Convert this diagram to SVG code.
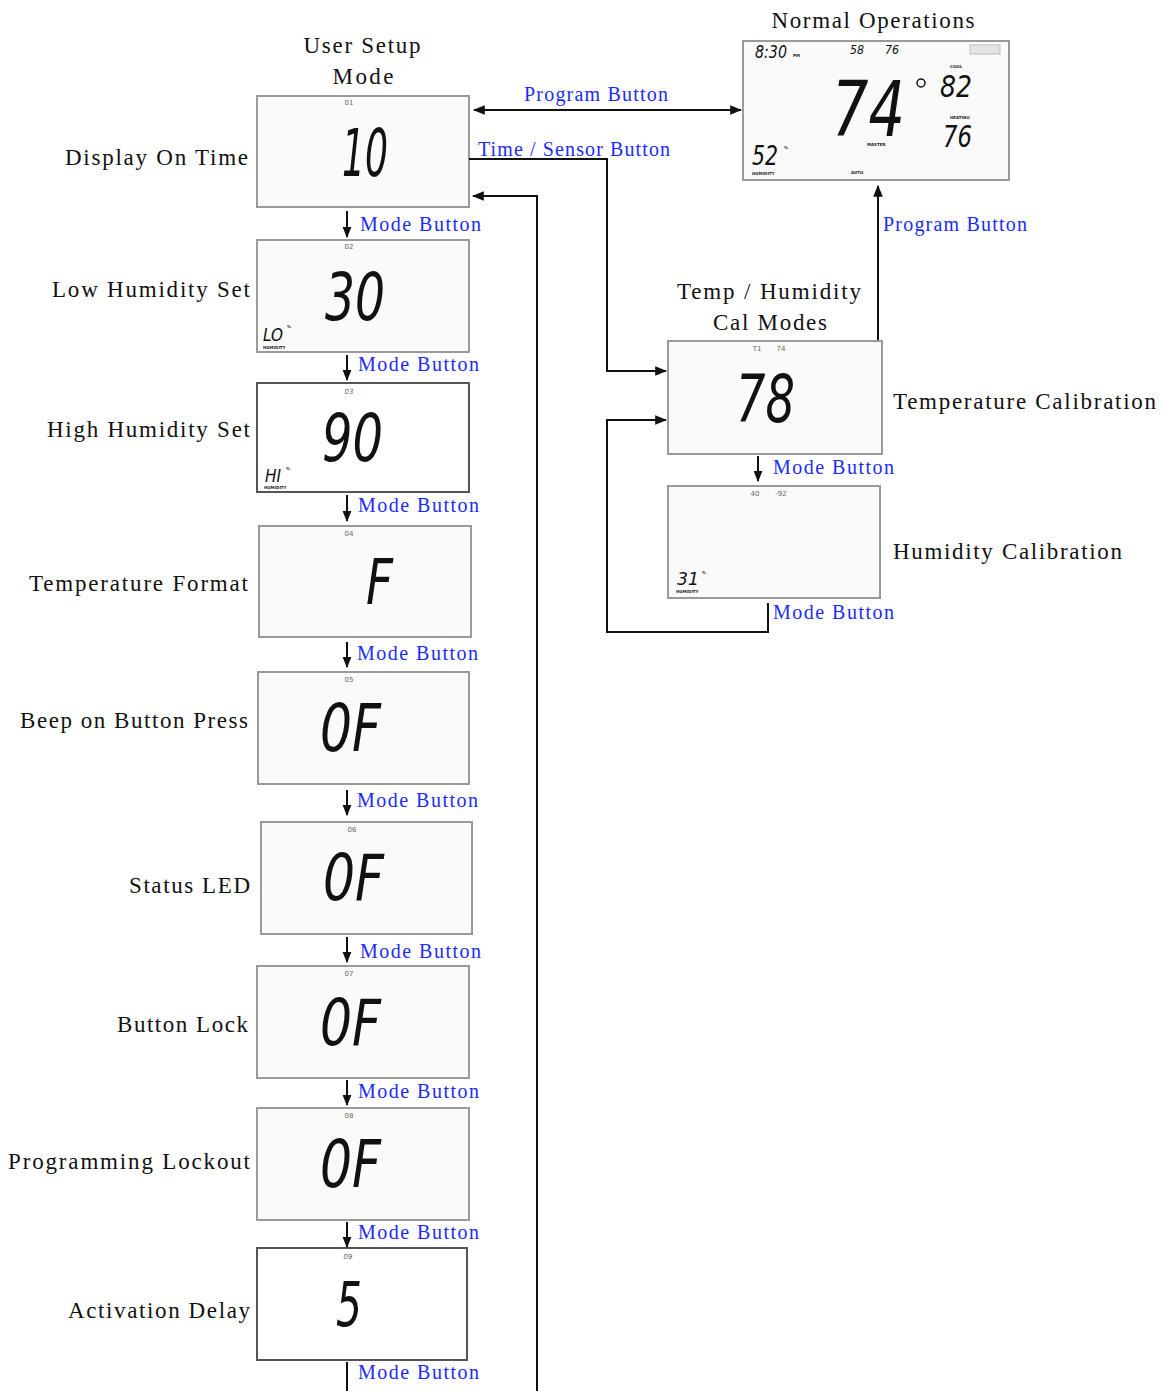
<svg xmlns="http://www.w3.org/2000/svg" width="1162" height="1391" viewBox="0 0 1162 1391">
<defs>
<style>
.lbl{font-family:"Liberation Serif",serif;font-size:23px;fill:#111}
.blu{font-family:"Liberation Serif",serif;font-size:20px;fill:#1a2cff}
.box{fill:#fafafa;stroke:#9a9a9a;stroke-width:2}
.boxd{fill:#ffffff;stroke:#555;stroke-width:2}
.lcd{font-family:"DejaVu Sans",sans-serif;font-style:oblique;fill:#111}
.tiny{font-family:"DejaVu Sans",sans-serif;font-size:7px;fill:#666}
.tinyb{font-family:"DejaVu Sans",sans-serif;font-size:4px;fill:#222;font-weight:bold}
.ln{fill:none;stroke:#111;stroke-width:2}
</style>
<marker id="ah" viewBox="0 0 10 10" refX="9" refY="5" markerWidth="11" markerHeight="11" markerUnits="userSpaceOnUse" orient="auto-start-reverse">
<path d="M0,1 L10,5 L0,9 z" fill="#111"/>
</marker>
<marker id="ah2" viewBox="0 0 10 10" refX="9" refY="5" markerWidth="12" markerHeight="12" markerUnits="userSpaceOnUse" orient="auto-start-reverse">
<path d="M0,1 L10,5 L0,9 z" fill="#111"/>
</marker>
</defs>
<rect width="1162" height="1391" fill="#ffffff"/>

<!-- headings -->
<text class="lbl" x="362" y="53" text-anchor="middle" textLength="117">User Setup</text>
<text class="lbl" x="363" y="84" text-anchor="middle" textLength="61">Mode</text>
<text class="lbl" x="873" y="28" text-anchor="middle" textLength="203">Normal Operations</text>
<text class="lbl" x="769" y="299" text-anchor="middle" textLength="184">Temp / Humidity</text>
<text class="lbl" x="770" y="330" text-anchor="middle" textLength="114">Cal Modes</text>

<!-- side labels -->
<text class="lbl" x="248" y="165" text-anchor="end" textLength="183">Display On Time</text>
<text class="lbl" x="250" y="297" text-anchor="end" textLength="198">Low Humidity Set</text>
<text class="lbl" x="250" y="437" text-anchor="end" textLength="203">High Humidity Set</text>
<text class="lbl" x="248" y="591" text-anchor="end" textLength="219">Temperature Format</text>
<text class="lbl" x="248" y="728" text-anchor="end" textLength="228">Beep on Button Press</text>
<text class="lbl" x="250" y="893" text-anchor="end" textLength="121">Status LED</text>
<text class="lbl" x="248" y="1032" text-anchor="end" textLength="131">Button Lock</text>
<text class="lbl" x="250" y="1169" text-anchor="end" textLength="242">Programming Lockout</text>
<text class="lbl" x="250" y="1318" text-anchor="end" textLength="182">Activation Delay</text>
<text class="lbl" x="893" y="409" textLength="263">Temperature Calibration</text>
<text class="lbl" x="893" y="559" textLength="229">Humidity Calibration</text>

<!-- Normal operations node -->
<g id="normal-ops">
<rect class="box" x="743" y="41" width="266" height="139"/>
<text class="lcd" x="755" y="58" font-size="18" textLength="32" lengthAdjust="spacingAndGlyphs">8:30</text>
<text class="tinyb" x="793" y="57">PM</text>
<text class="lcd" x="850" y="54" font-size="13" textLength="14" lengthAdjust="spacingAndGlyphs">58</text>
<text class="lcd" x="885" y="54" font-size="13" textLength="14" lengthAdjust="spacingAndGlyphs">76</text>
<rect x="970" y="45" width="30" height="9" fill="#e4e4e4" stroke="#bbb" stroke-width="1"/>
<text class="lcd" x="832" y="136" font-size="77" textLength="73" lengthAdjust="spacingAndGlyphs">74</text>
<circle cx="921" cy="83" r="4" fill="none" stroke="#111" stroke-width="1.5"/>
<text class="tinyb" x="950" y="68">COOL</text>
<text class="lcd" x="940" y="97" font-size="30" textLength="32" lengthAdjust="spacingAndGlyphs">82</text>
<text class="tinyb" x="950" y="119">HEATING</text>
<text class="lcd" x="943" y="147" font-size="31" textLength="29" lengthAdjust="spacingAndGlyphs">76</text>
<text class="tinyb" x="867" y="146">MASTER</text>
<text class="lcd" x="752" y="165" font-size="26" textLength="26" lengthAdjust="spacingAndGlyphs">52</text>
<text class="tinyb" x="784" y="149">%</text>
<text class="tinyb" x="752" y="175">HUMIDITY</text>
<text class="tinyb" x="851" y="174">AUTO</text>
</g>

<!-- Left column nodes -->
<g id="display-on-time">
<rect class="box" x="257" y="96" width="212" height="111"/>
<text class="tiny" x="349" y="105" text-anchor="middle">01</text>
<text class="lcd" x="342" y="176" font-size="66" textLength="46" lengthAdjust="spacingAndGlyphs">10</text>
</g>
<g id="low-humidity-set">
<rect class="box" x="257" y="240" width="212" height="112"/>
<text class="tiny" x="349" y="249" text-anchor="middle">02</text>
<text class="lcd" x="325" y="320" font-size="65" textLength="60" lengthAdjust="spacingAndGlyphs">30</text>
<text class="lcd" x="263" y="341" font-size="18" textLength="20" lengthAdjust="spacingAndGlyphs">LO</text>
<text class="tinyb" x="287" y="328">%</text>
<text class="tinyb" x="263" y="349">HUMIDITY</text>
</g>
<g id="high-humidity-set">
<rect class="boxd" x="257" y="383" width="212" height="109"/>
<text class="tiny" x="349" y="394" text-anchor="middle" font-style="italic">03</text>
<text class="lcd" x="322" y="461" font-size="65" textLength="61" lengthAdjust="spacingAndGlyphs">90</text>
<text class="lcd" x="265" y="482" font-size="17" textLength="16" lengthAdjust="spacingAndGlyphs">HI</text>
<text class="tinyb" x="286" y="470">%</text>
<text class="tinyb" x="264" y="489">HUMIDITY</text>
</g>
<g id="temperature-format">
<rect class="box" x="259" y="526" width="212" height="111"/>
<text class="tiny" x="349" y="536" text-anchor="middle">04</text>
<text class="lcd" x="366" y="604" font-size="62" textLength="27" lengthAdjust="spacingAndGlyphs">F</text>
</g>
<g id="beep-on-button-press">
<rect class="box" x="258" y="672" width="211" height="112"/>
<text class="tiny" x="349" y="682" text-anchor="middle">05</text>
<text class="lcd" x="320" y="751" font-size="65" textLength="61" lengthAdjust="spacingAndGlyphs">0F</text>
</g>
<g id="status-led">
<rect class="box" x="261" y="822" width="211" height="112"/>
<text class="tiny" x="352" y="832" text-anchor="middle">06</text>
<text class="lcd" x="323" y="900" font-size="64" textLength="61" lengthAdjust="spacingAndGlyphs">0F</text>
</g>
<g id="button-lock">
<rect class="box" x="257" y="966" width="212" height="112"/>
<text class="tiny" x="349" y="976" text-anchor="middle">07</text>
<text class="lcd" x="320" y="1045" font-size="64" textLength="61" lengthAdjust="spacingAndGlyphs">0F</text>
</g>
<g id="programming-lockout">
<rect class="box" x="257" y="1108" width="212" height="112"/>
<text class="tiny" x="349" y="1118" text-anchor="middle">08</text>
<text class="lcd" x="320" y="1187" font-size="65" textLength="61" lengthAdjust="spacingAndGlyphs">0F</text>
</g>
<g id="activation-delay">
<rect class="boxd" x="257" y="1248" width="210" height="112"/>
<text class="tiny" x="348" y="1259" text-anchor="middle" font-style="italic">09</text>
<text class="lcd" x="336" y="1326" font-size="63" textLength="26" lengthAdjust="spacingAndGlyphs">5</text>
</g>

<!-- Calibration nodes -->
<g id="temperature-calibration">
<rect class="box" x="668" y="341" width="214" height="113"/>
<text class="tiny" x="757" y="351" text-anchor="middle">T1</text>
<text class="tiny" x="781" y="351" text-anchor="middle">74</text>
<text class="lcd" x="736" y="422" font-size="66" textLength="59" lengthAdjust="spacingAndGlyphs">78</text>
</g>
<g id="humidity-calibration">
<rect class="box" x="668" y="486" width="212" height="112"/>
<text class="tiny" x="755" y="496" text-anchor="middle">40</text>
<text class="tiny" x="781" y="496" text-anchor="middle">-92</text>
<text class="lcd" x="677" y="585" font-size="18" textLength="22" lengthAdjust="spacingAndGlyphs">31</text>
<text class="tinyb" x="702" y="574">%</text>
<text class="tinyb" x="676" y="593">HUMIDITY</text>
</g>

<!-- connectors -->
<g id="connectors">
<line class="ln" x1="474" y1="110" x2="741" y2="110" marker-start="url(#ah2)" marker-end="url(#ah2)"/>
<polyline class="ln" points="469,159 607,159 607,371 666,371" marker-end="url(#ah2)"/>
<polyline class="ln" points="537,1391 537,196 473,196" marker-end="url(#ah2)"/>
<polyline class="ln" points="768,603 768,632 607,632 607,420 666,420" marker-end="url(#ah2)"/>
<line class="ln" x1="878" y1="340" x2="878" y2="186" marker-end="url(#ah2)"/>
<line class="ln" x1="758" y1="456" x2="758" y2="481" marker-end="url(#ah)"/>
<line class="ln" x1="347" y1="211" x2="347" y2="237" marker-end="url(#ah)"/>
<line class="ln" x1="347" y1="355" x2="347" y2="380" marker-end="url(#ah)"/>
<line class="ln" x1="347" y1="495" x2="347" y2="521" marker-end="url(#ah)"/>
<line class="ln" x1="347" y1="642" x2="347" y2="667" marker-end="url(#ah)"/>
<line class="ln" x1="347" y1="790" x2="347" y2="815" marker-end="url(#ah)"/>
<line class="ln" x1="347" y1="937" x2="347" y2="962" marker-end="url(#ah)"/>
<line class="ln" x1="347" y1="1080" x2="347" y2="1105" marker-end="url(#ah)"/>
<line class="ln" x1="347" y1="1222" x2="347" y2="1247" marker-end="url(#ah)"/>
<line class="ln" x1="347" y1="1362" x2="347" y2="1391"/>

<text class="blu" x="524" y="101" textLength="144">Program Button</text>
<text class="blu" x="478" y="156" textLength="192">Time / Sensor Button</text>
<text class="blu" x="883" y="231" textLength="144">Program Button</text>
<text class="blu" x="773" y="474" textLength="121">Mode Button</text>
<text class="blu" x="773" y="619" textLength="121">Mode Button</text>
<text class="blu" x="360" y="231" textLength="121">Mode Button</text>
<text class="blu" x="358" y="371" textLength="121">Mode Button</text>
<text class="blu" x="358" y="512" textLength="121">Mode Button</text>
<text class="blu" x="357" y="660" textLength="121">Mode Button</text>
<text class="blu" x="357" y="807" textLength="121">Mode Button</text>
<text class="blu" x="360" y="958" textLength="121">Mode Button</text>
<text class="blu" x="358" y="1098" textLength="121">Mode Button</text>
<text class="blu" x="358" y="1239" textLength="121">Mode Button</text>
<text class="blu" x="358" y="1379" textLength="121">Mode Button</text>
</g>
</svg>
